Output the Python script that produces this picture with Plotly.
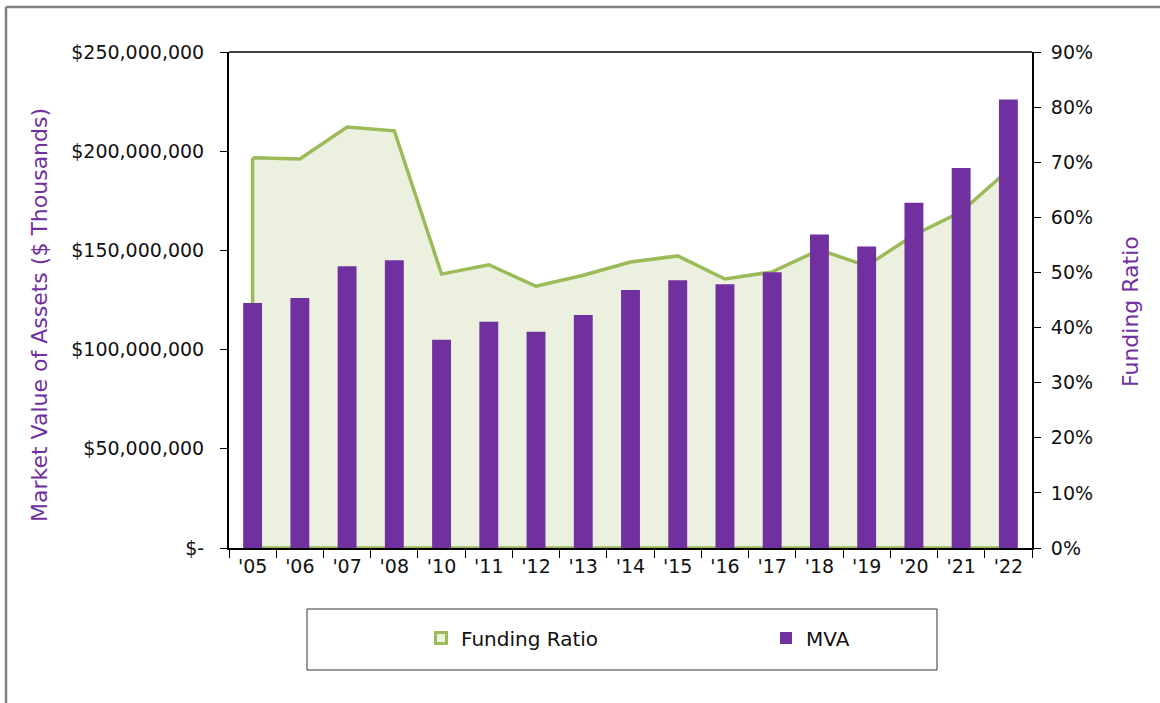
import plotly.graph_objects as go

years = ["'05", "'06", "'07", "'08", "'10", "'11", "'12", "'13", "'14", "'15", "'16", "'17", "'18", "'19", "'20", "'21", "'22"]
mva = [123.5e6, 126e6, 142e6, 145e6, 105e6, 114e6, 109e6, 117.5e6, 130e6, 135e6, 133e6, 139e6, 158e6, 152e6, 174e6, 191.5e6, 226e6]
funding_ratio = [0.708, 0.706, 0.764, 0.757, 0.497, 0.514, 0.475, 0.495, 0.519, 0.530, 0.488, 0.501, 0.541, 0.512, 0.568, 0.610, 0.686]

left_tickvals = [0, 50e6, 100e6, 150e6, 200e6, 250e6]
left_ticktext = ["$-", "$50,000,000", "$100,000,000", "$150,000,000", "$200,000,000", "$250,000,000"]
right_tickvals = [i / 10 for i in range(10)]
right_ticktext = [f"{i*10}%" for i in range(10)]

PURPLE = "#7030A0"
GREEN = "#9BBB59"
GREEN_FILL = "#EBF1DE"
FONT = "DejaVu Sans"

W, H = 1160, 703
L, R, T, B = 229, 128, 52, 155
pw, ph = W - L - R, H - T - B

def px(x):
    return (x - L) / pw

def py(y):
    return (H - B - y) / ph

# closed outline for funding ratio area
area_x = years + [years[-1], years[0], years[0]]
area_y = funding_ratio + [0, 0, funding_ratio[0]]

fig = go.Figure()
fig.add_trace(go.Scatter(
    x=area_x, y=area_y, name="Funding Ratio", mode="lines",
    line=dict(color=GREEN, width=3.5), fill="toself", fillcolor=GREEN_FILL,
    yaxis="y", hoverinfo="skip", showlegend=False,
))
# legend entry for the funding ratio area
fig.add_trace(go.Scatter(
    x=[None], y=[None], name="Funding Ratio", mode="markers",
    marker=dict(symbol="square", size=11, color=GREEN_FILL, line=dict(color=GREEN, width=3)),
    yaxis="y",
))
fig.add_trace(go.Bar(
    x=years, y=mva, name="MVA", marker=dict(color=PURPLE, line=dict(width=0)),
    yaxis="y2", width=0.4,
))

fig.update_layout(
    width=W, height=H,
    margin=dict(l=L, r=R, t=T, b=B),
    paper_bgcolor="white", plot_bgcolor="white",
    font=dict(family=FONT, size=19, color="#111111"),
    showlegend=True,
    legend=dict(orientation="h", x=px(421), xanchor="left", y=py(638), yanchor="middle",
                bgcolor="rgba(0,0,0,0)", font=dict(size=20, color="#111111"),
                entrywidth=300, itemwidth=30, traceorder="normal"),
    xaxis=dict(type="category", showline=True, linecolor="#000000", linewidth=2,
               mirror=False, ticks="outside", ticklen=8, tickcolor="#000000", tickwidth=1,
               tickson="boundaries", showgrid=False, tickfont=dict(size=19),
               range=[-0.5, len(years) - 0.5]),
    yaxis=dict(side="right", range=[0, 0.9], tickvals=right_tickvals, ticktext=right_ticktext,
               showline=True, linecolor="#000000", linewidth=2, ticks="outside", ticklen=7,
               tickcolor="#000000", showgrid=False, zeroline=False, tickfont=dict(size=19),
               ticklabelstandoff=6),
    yaxis2=dict(side="left", overlaying="y", range=[0, 250e6], tickvals=left_tickvals,
                ticktext=left_ticktext, showline=True, linecolor="#000000", linewidth=2,
                ticks="outside", ticklen=7, tickcolor="#000000", showgrid=False,
                zeroline=False, tickfont=dict(size=19), ticklabelstandoff=12),
    bargap=0.6,
)

shapes = [
    dict(type="line", xref="paper", yref="paper", x0=0, x1=1, y0=1, y1=1,
         line=dict(color="#444444", width=2)),
    dict(type="rect", xref="paper", yref="paper", x0=px(307), x1=px(937), y0=py(609), y1=py(670),
         line=dict(color="#333333", width=1), fillcolor="rgba(0,0,0,0)"),
    dict(type="line", xref="paper", yref="paper", x0=px(6), x1=px(1160), y0=py(7), y1=py(7),
         line=dict(color="#808080", width=2.5)),
    dict(type="line", xref="paper", yref="paper", x0=px(6), x1=px(6), y0=py(7), y1=py(703),
         line=dict(color="#808080", width=2.5)),
]
fig.update_layout(shapes=shapes)

annotations = [
    dict(text="Market Value of Assets ($ Thousands)", xref="paper", yref="paper",
         x=px(39), y=py(315), textangle=-90, showarrow=False,
         font=dict(size=22, color=PURPLE), xanchor="center", yanchor="middle"),
    dict(text="Funding Ratio", xref="paper", yref="paper",
         x=px(1130), y=py(312), textangle=-90, showarrow=False,
         font=dict(size=22, color=PURPLE), xanchor="center", yanchor="middle"),
]
fig.update_layout(annotations=annotations)

fig.write_html("out.html", config={"displayModeBar": False},
               post_script="document.body.style.margin='0';document.body.style.overflow='hidden';")
